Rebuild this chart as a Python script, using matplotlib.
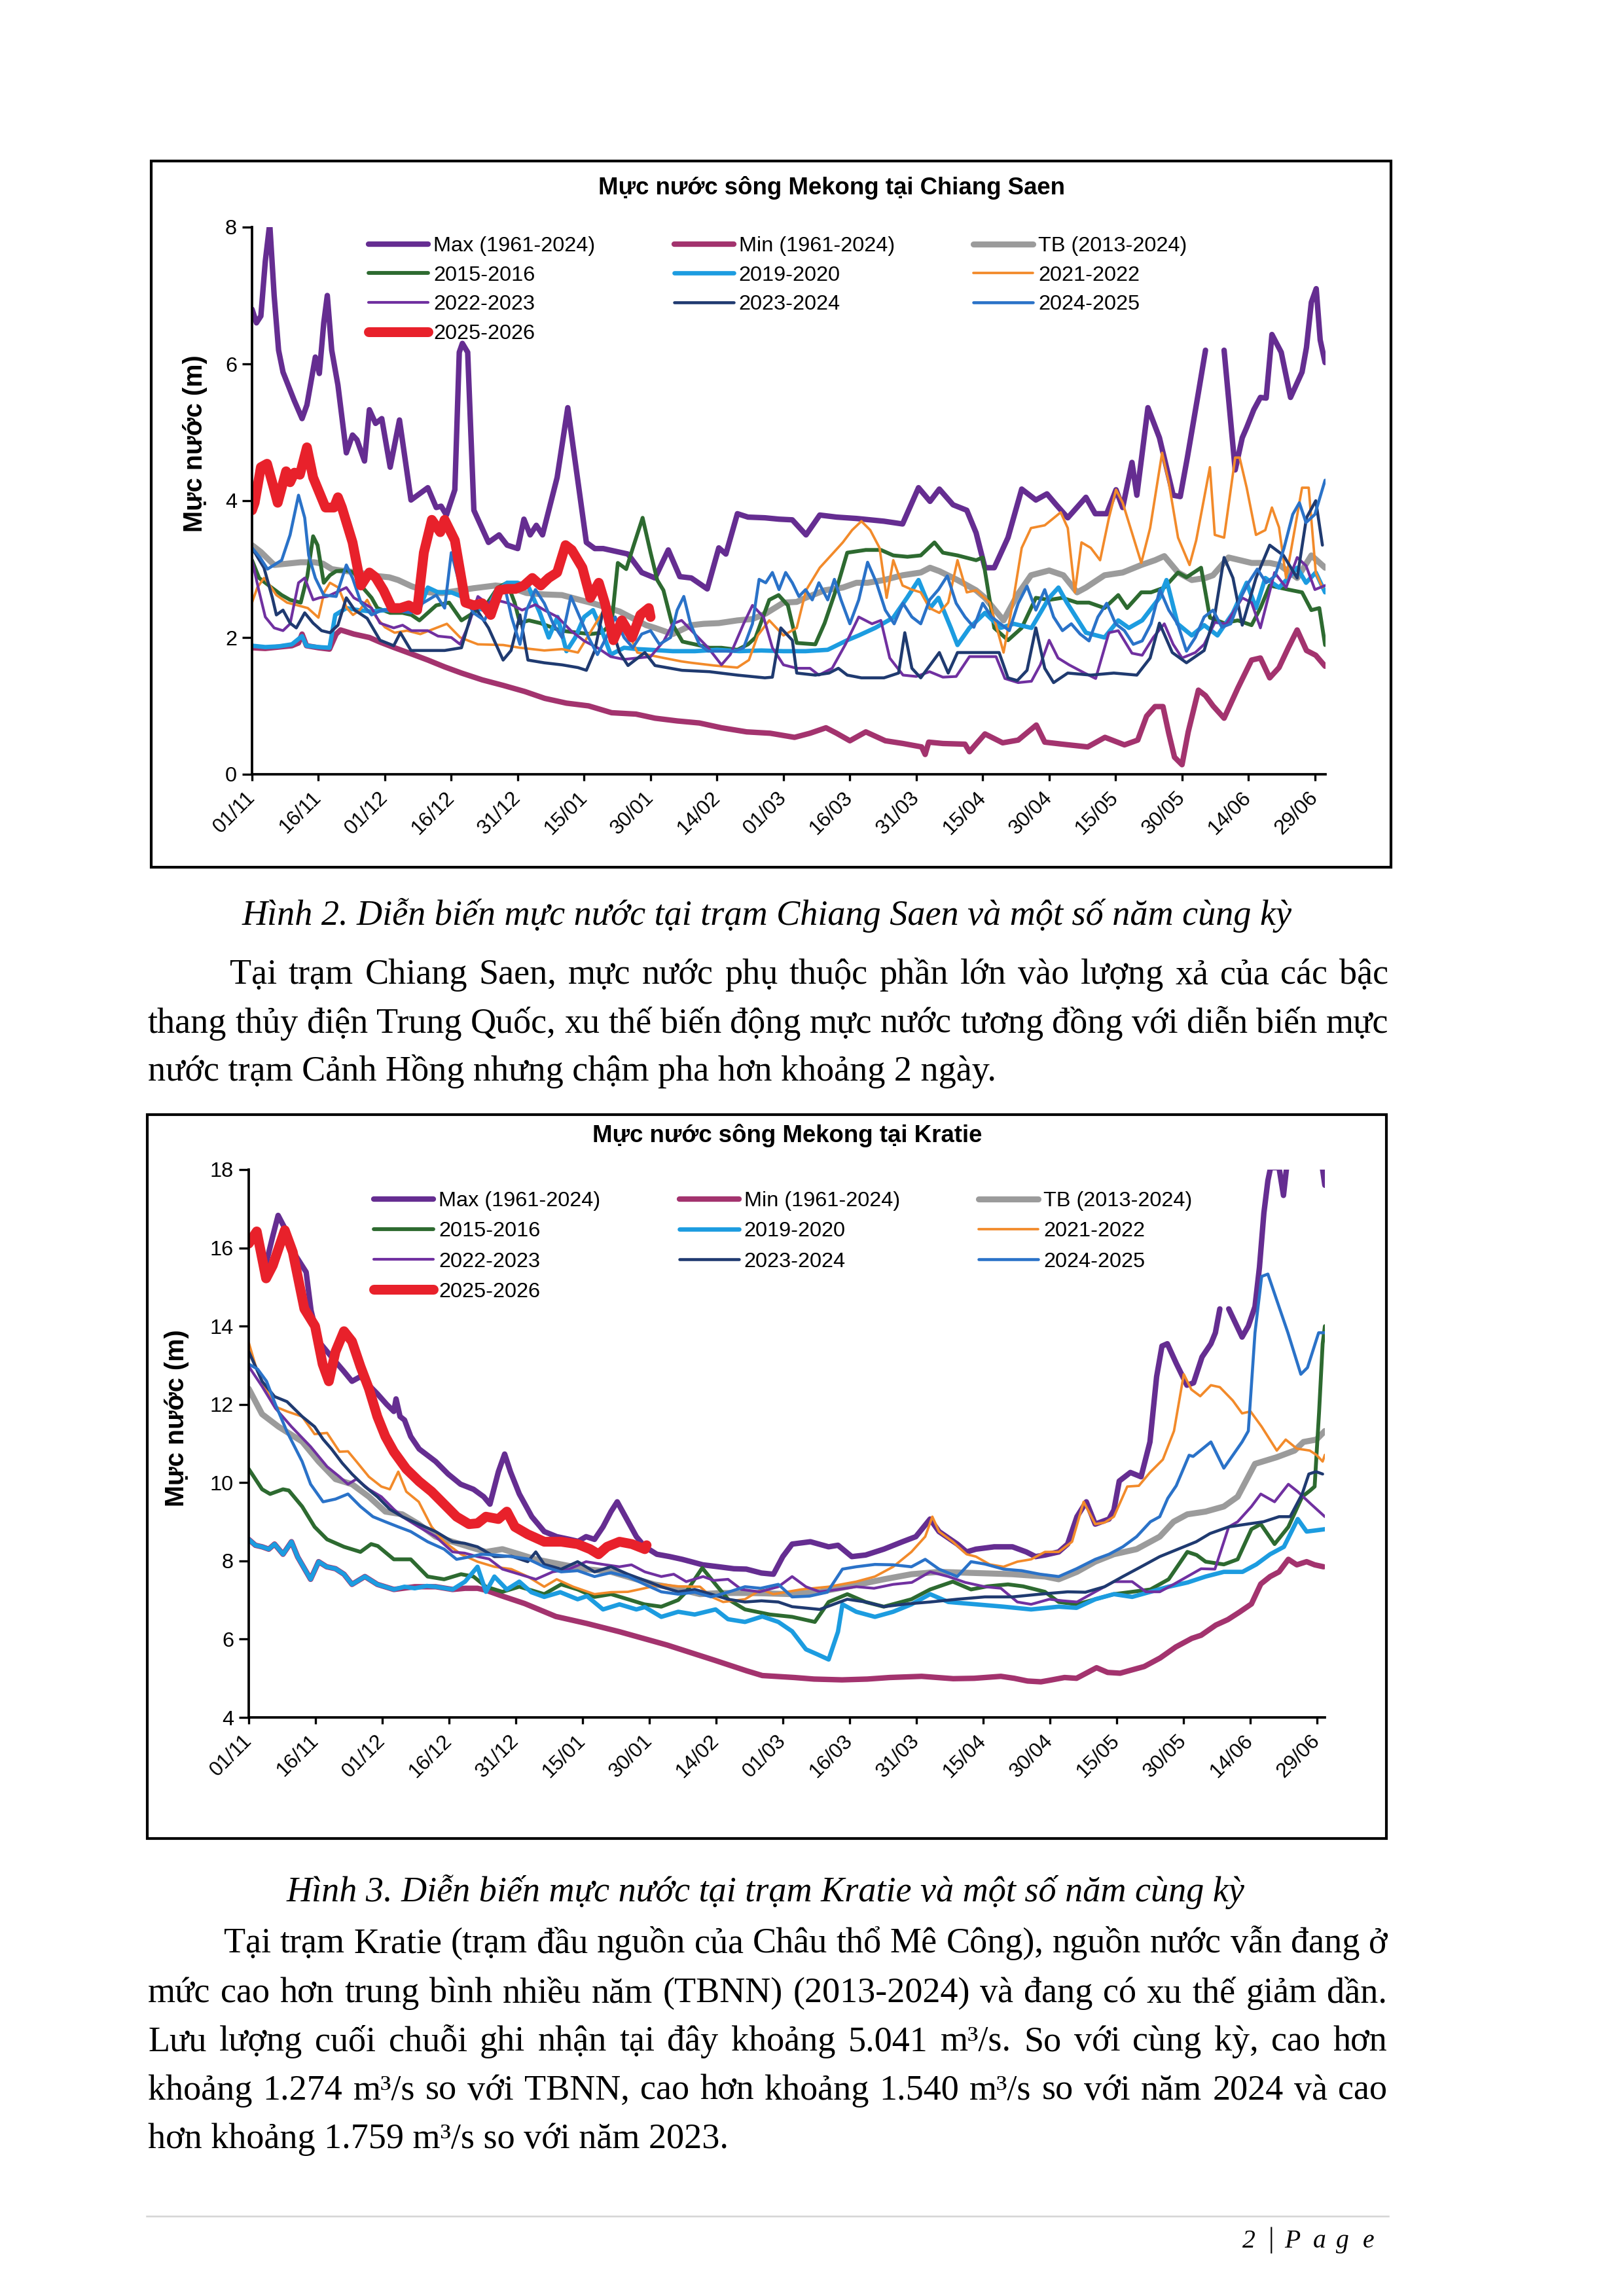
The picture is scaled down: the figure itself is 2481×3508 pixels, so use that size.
import numpy as np
import matplotlib
matplotlib.use('Agg')
import matplotlib.pyplot as plt
from matplotlib.patches import Rectangle
from matplotlib.lines import Line2D
from matplotlib.font_manager import FontProperties

nan = np.nan

# ---------------- data: (day since 01/11, water level m) ----------------
xtick_labels = ['01/11', '16/11', '01/12', '16/12', '31/12', '15/01', '30/01', '14/02', '01/03',
                '16/03', '31/03', '15/04', '30/04', '15/05', '30/05', '14/06', '29/06']
xtick_days = [0, 15, 30, 45, 60, 75, 90, 105, 120, 135, 150, 165, 180, 195, 210, 225, 240]

series_labels = ['Max (1961-2024)', 'Min (1961-2024)', 'TB (2013-2024)', '2015-2016', '2019-2020',
                 '2021-2022', '2022-2023', '2023-2024', '2024-2025', '2025-2026']
series_colors = ['#652D91', '#A3336E', '#9B9B9B', '#2D6A30', '#1C9CE0',
                 '#F28A2A', '#7030A0', '#1F3A70', '#2A72C8', '#E8212B']
series_widths = [2.0, 2.0, 2.2, 1.4, 1.6, 0.9, 1.0, 1.1, 1.1, 3.6]

# Chiang Saen
cs_max = [(0,6.8),(1,6.6),(2,6.7),(3,7.5),(4,8.05),(5,7.0),(6,6.2),(7,5.88),(9.5,5.47),(11.3,5.2),(12.4,5.4),
          (14.3,6.1),(15.2,5.86),(16.2,6.6),(17,7.0),(18,6.2),(19.4,5.69),(21.3,4.7),(22.7,4.96),(23.7,4.89),
          (25.4,4.58),(26.5,5.33),(27.9,5.13),(29.3,5.2),(31.2,4.49),(33.3,5.18),(35.9,4.01),(39.7,4.19),
          (41.6,3.9),(42.7,3.92),(43.9,3.79),(45.8,4.16),(46.8,6.17),(47.5,6.3),(48.7,6.17),(50.1,3.86),
          (53.4,3.39),(55.8,3.5),(57.6,3.35),(60,3.3),(61.4,3.73),(62.8,3.5),(64.2,3.64),(65.6,3.5),(68.9,4.34),
          (71.3,5.36),(72.7,4.7),(75.5,3.39),(77.4,3.3),(79.3,3.3),(84.9,3.22),(88,2.95),(91,2.87),(94,3.28),
          (96.6,2.89),(99.2,2.87),(102.8,2.71),(105.4,3.31),(107,3.22),(109.6,3.81),(112,3.76),(115.8,3.75),
          (119,3.73),(122,3.72),(125.1,3.5),(128.2,3.79),(132,3.76),(136.5,3.74),(142.7,3.7),(146.9,3.66),
          (150.5,4.19),(153.1,3.99),(155.2,4.17),(158.3,3.94),(161.4,3.86),(163.5,3.53),(165.5,3.02),
          (167.6,3.02),(170.7,3.46),(173.8,4.17),(177,4.01),(179.5,4.1),(181.6,3.94),(184.2,3.75),(188.3,4.05),
          (190.4,3.81),(193,3.81),(195.1,4.16),(196.6,3.9),(198.7,4.56),(199.8,4.08),(202.3,5.36),(204.9,4.92),
          (208,4.08),(209.6,4.06),(211.2,4.63),(213.7,5.58),(215.3,6.2),(217,nan),(219.5,6.2),(222,4.45),
          (223.6,4.92),(224.6,5.07),(226.2,5.33),(227.7,5.51),(229,5.5),(230.3,6.43),(232.4,6.17),(234.5,5.51),
          (237.1,5.88),(238.1,6.24),(239.2,6.9),(240.3,7.1),(241.2,6.35),(242.3,6.02)]
cs_min = [(0,1.85),(3,1.84),(6,1.86),(9,1.88),(10.5,1.92),(11.3,2.05),(12.3,1.88),(15,1.85),(17.5,1.83),(19,2.05),
          (20,2.11),(23,2.05),(26.5,2.0),(29,1.93),(32.2,1.85),(36,1.76),(39.7,1.67),(43.5,1.57),(47.3,1.48),
          (52,1.38),(56.7,1.3),(61.6,1.21),(66.1,1.11),(71,1.04),(76,1.0),(81.2,0.9),(86.7,0.88),(91,0.82),
          (96,0.78),(101,0.75),(106,0.68),(111.7,0.62),(117,0.6),(122.5,0.54),(126,0.6),(129.6,0.68),(132,0.6),
          (135,0.49),(138.6,0.62),(143,0.49),(147,0.45),(151.2,0.4),(152,0.29),(152.8,0.47),(156,0.45),(161,0.44),
          (162,0.33),(165.5,0.59),(169.5,0.46),(173,0.5),(177.1,0.72),(179,0.47),(183,0.44),(188.7,0.4),
          (192.6,0.54),(197,0.43),(200,0.5),(202,0.85),(203.9,0.99),(205.7,0.99),(207,0.6),(208.3,0.25),
          (210,0.14),(211.4,0.62),(213.7,1.23),(215.3,1.15),(217,1.0),(219.5,0.82),(222.6,1.26),(225.7,1.67),
          (227.7,1.7),(229.8,1.41),(231.9,1.56),(234,1.85),(236,2.11),(238.1,1.81),(240.2,1.74),(242.3,1.58)]
cs_tb = [(0,3.35),(2,3.25),(5,3.06),(8,3.08),(11,3.1),(14,3.1),(16,3.08),(18,3.0),(20,2.98),(24,2.95),(28,2.9),
         (31,2.88),(33,2.84),(36,2.75),(40,2.66),(43,2.65),(46,2.68),(50,2.72),(55,2.76),(58,2.74),(62,2.65),
         (66,2.63),(70,2.62),(74,2.55),(77,2.5),(80,2.44),(83,2.38),(86,2.28),(89,2.18),(91,2.14),(95,2.05),
         (99.2,2.18),(102,2.2),(105.4,2.21),(109.6,2.25),(113,2.27),(116,2.35),(120,2.51),(123,2.52),(125,2.58),
         (129.3,2.69),(133.4,2.73),(136.5,2.8),(139,2.8),(142.7,2.84),(146.9,2.91),(151,2.95),(153.1,3.02),
         (155.2,2.97),(159.3,2.84),(163.5,2.69),(165.5,2.58),(169.7,2.25),(172.8,2.62),(175.9,2.91),(180,2.98),
         (183.2,2.91),(186.3,2.66),(188.3,2.73),(192.5,2.91),(196.6,2.95),(200.8,3.06),(203.9,3.13),(206,3.19),
         (209.1,2.95),(212.2,2.84),(215.3,2.87),(217,2.91),(220.5,3.17),(225.7,3.09),(229.8,3.09),(232,3.06),
         (236,2.87),(239.2,3.2),(242.3,3.02)]
cs_1516 = [(0,3.13),(1.6,2.87),(4,2.75),(6.7,2.62),(8.6,2.55),(11,2.51),(12.5,2.9),(13.8,3.48),(14.8,3.35),
           (16.2,2.8),(17.6,2.91),(19,2.97),(21.3,2.98),(23,2.95),(25,2.73),(27,2.58),(28.3,2.43),(31.2,2.36),
           (34,2.36),(36,2.33),(37.8,2.25),(39.7,2.36),(41.6,2.47),(44.5,2.51),(47.3,2.25),(50,2.36),(53.2,2.51),
           (55.5,2.73),(57.6,2.8),(59.3,2.51),(60.5,2.21),(62.5,2.25),(65.1,2.21),(68,2.14),(69.8,2.1),(73.6,2.07),
           (76.4,2.05),(79,2.07),(81.2,2.21),(82.6,3.09),(84.5,3.0),(86,3.31),(88.2,3.75),(90,3.24),(91.5,2.84),
           (92.9,2.69),(94.8,2.21),(97.2,1.94),(100,1.9),(103.3,1.85),(106,1.85),(109.6,1.82),(112,1.9),(113.7,2.0),
           (116.8,2.55),(118.9,2.62),(121,2.47),(123,1.92),(127.2,1.9),(129.3,2.21),(132.4,2.8),(134.4,3.24),
           (138.6,3.28),(142,3.28),(144.8,3.2),(148,3.18),(151,3.2),(154.1,3.39),(156,3.24),(159.3,3.2),
           (163.5,3.13),(165,3.17),(167.6,2.14),(170.7,1.96),(173.8,2.14),(177,2.58),(180,2.55),(183,2.58),
           (186.3,2.51),(189,2.51),(192.5,2.43),(195.6,2.62),(197.6,2.43),(200.8,2.66),(203,2.66),(206,2.73),
           (209.1,2.95),(211,2.88),(214.3,3.02),(216.3,2.29),(219.5,2.21),(222.6,2.25),(225.7,2.18),(227.7,2.43),
           (229.8,2.76),(234,2.7),(237.1,2.66),(239.2,2.4),(241,2.43),(242.3,1.89)]
cs_1920 = [(0,1.88),(3,1.86),(6,1.87),(9,1.9),(11.3,2.02),(12.3,1.88),(15,1.86),(17.5,1.85),(18.8,2.33),(21.3,2.43),
           (24,2.4),(27,2.38),(30,2.4),(33,2.4),(36,2.38),(38,2.45),(39.7,2.73),(42,2.66),(45,2.66),(47.3,2.6),
           (50,2.43),(53,2.4),(55,2.66),(57.6,2.8),(60,2.8),(62.5,2.73),(65,2.36),(67,2.0),(69,2.3),(71,1.8),
           (73,2.0),(75,2.3),(77,2.4),(79,2.1),(81,1.75),(84,1.85),(87,1.83),(90,1.82),(95,1.8),(100,1.8),
           (105,1.82),(110,1.8),(115,1.81),(120,1.8),(125,1.8),(130,1.82),(134.4,1.96),(137,2.03),(140.7,2.14),
           (144.8,2.29),(147.9,2.58),(150.5,2.84),(153.1,2.43),(155,2.58),(157.8,2.14),(159.3,1.89),(162,2.14),
           (165.5,2.36),(169,2.14),(172,2.2),(176,2.14),(180,2.58),(182.1,2.73),(184,2.51),(188.3,2.07),
           (192.5,2.0),(195.6,2.25),(198,2.14),(201,2.25),(204.9,2.58),(206.5,2.84),(209,2.2),(212.2,2.03),
           (215,2.18),(218,2.03),(221.5,2.36),(224.6,2.8),(226.7,2.43),(228.8,2.87),(231.9,2.73),(234,2.87),
           (236,3.02),(238,2.8),(240.2,2.95),(242.3,2.66)]
cs_2122 = [(0,2.51),(1.2,2.73),(2.7,2.87),(3.6,2.8),(5.5,2.62),(7.9,2.51),(10.3,2.47),(12.6,2.43),(15,2.29),
           (16.3,2.66),(17.6,2.8),(19.5,2.73),(21.4,2.43),(22.8,2.33),(24.3,2.4),(26,2.55),(28,2.3),(30,2.15),
           (32.2,2.07),(35,2.1),(38,2.05),(41.6,2.14),(44,2.2),(47,2.0),(51,1.9),(56.7,1.89),(60.5,1.85),(66,1.81),
           (70,1.83),(73.6,1.78),(77,2.14),(79.7,2.43),(82,2.14),(85,2.07),(87,1.78),(93,1.7),(97,1.65),(99.2,1.63),
           (104.4,1.59),(109.6,1.56),(112.2,1.67),(114.2,2.03),(116.8,2.25),(120,2.03),(123,2.14),(125.1,2.69),
           (128.2,3.02),(131.3,3.24),(133.4,3.39),(135.5,3.57),(137.6,3.7),(139.6,3.57),(141.7,3.31),(143.3,2.58),
           (144.8,3.13),(146.9,2.76),(149,2.7),(151,2.66),(153,2.43),(155.2,2.36),(157.2,2.51),(159.3,3.13),
           (161.4,2.66),(163.5,2.69),(166.6,2.51),(169.7,1.78),(171.8,2.51),(173.8,3.31),(175.9,3.6),(179,3.64),
           (181.1,3.75),(182.6,3.83),(184.2,3.6),(185.8,2.66),(187.3,3.39),(189.4,3.31),(191.5,3.13),(193.5,3.75),
           (195.1,4.16),(196.6,3.97),(198.7,3.53),(200.8,3.09),(202.8,3.6),(205.5,4.7),(207,4.27),(209.1,3.46),
           (211.7,3.06),(213.2,3.42),(216.3,4.49),(217.4,3.5),(219.5,3.46),(222,4.63),(223,4.63),(224.6,4.19),
           (226.7,3.5),(228.8,3.57),(230.3,3.9),(231.9,3.61),(233.5,2.87),(235.5,3.6),(237.1,4.19),(238.6,4.19),
           (240.2,2.95),(241.7,2.73)]
cs_2223 = [(0,3.13),(1.5,2.7),(3,2.3),(5,2.14),(7,2.1),(8.6,2.2),(10.5,2.8),(11.9,2.87),(13.8,2.55),(15.2,2.58),
           (17,2.6),(19,2.66),(21.3,2.73),(23,2.58),(25,2.51),(27,2.43),(28.9,2.21),(32,2.14),(34,2.18),(36,2.1),
           (39.7,2.1),(42,2.02),(45,2.0),(47,1.9),(49,2.2),(51,2.6),(53,2.5),(55,2.55),(58,2.5),(61,2.4),(64,2.48),
           (66,2.4),(69,2.3),(72,2.1),(75,1.95),(78,1.85),(81,1.72),(84,1.68),(87,1.7),(90,1.72),(93,1.95),(95,2.2),
           (97,2.25),(100,2.05),(103,1.85),(106,1.6),(108,1.75),(111,2.2),(113,2.47),(115.5,2.3),(117.5,1.85),
           (120,1.6),(123,1.55),(126,1.55),(128,1.45),(131,1.55),(134,1.9),(137,2.3),(140,2.2),(142,2.25),(144,1.7),
           (147,1.45),(150,1.43),(153,1.5),(156,1.42),(159,1.43),(162,1.72),(165,1.72),(168,1.72),(170,1.4),
           (173,1.34),(176,1.36),(178,1.6),(180,1.96),(182,1.7),(184.5,1.6),(188,1.48),(190.5,1.4),(193.5,2.07),
           (195.6,2.1),(198.7,1.77),(201,1.74),(203.5,2.0),(206,2.2),(208,1.9),(210,1.7),(213,1.78),(215,1.9),
           (217.4,2.22),(220,2.2),(223.6,2.58),(225.7,2.51),(227.7,2.14),(230.9,2.95),(233.5,2.73),(236,3.17),
           (238,3.05),(240,2.7),(242.3,2.76)]
cs_2324 = [(0,3.31),(2.7,3.02),(4.6,2.58),(5.5,2.33),(7,2.4),(8.6,2.21),(10,2.14),(11.9,2.36),(13.8,2.21),
           (15.7,2.1),(17.6,2.07),(19.4,2.18),(21.3,2.58),(23.2,2.4),(26,2.28),(28.9,1.96),(32,1.88),(33.5,2.07),
           (35.9,1.81),(39.7,1.81),(43.5,1.81),(47.3,1.85),(49.6,2.36),(50.5,2.43),(53.4,2.14),(56.7,1.67),
           (58.5,1.81),(60.5,2.33),(62.3,1.67),(66,1.63),(70,1.6),(73.6,1.56),(75.5,1.52),(77.4,1.81),(79.3,2.4),
           (81,2.2),(83,1.78),(84.9,1.59),(88.7,1.78),(91,1.59),(97.1,1.52),(103.3,1.5),(109.6,1.45),(115.8,1.41),
           (117.5,1.42),(119.4,2.14),(122,1.96),(123,1.48),(127.2,1.45),(130.3,1.48),(132.4,1.55),(134.4,1.45),
           (137.6,1.41),(142.7,1.41),(146,1.48),(147.4,2.07),(149,1.55),(151,1.41),(155.2,1.78),(157.2,1.48),
           (159.3,1.78),(163.5,1.78),(168.7,1.78),(170.7,1.41),(172.8,1.37),(175,1.52),(177,2.14),(179,1.55),
           (181,1.34),(184.2,1.48),(189.4,1.45),(194.6,1.48),(199.8,1.45),(202.8,1.7),(204.9,2.21),(207.8,1.78),
           (211,1.63),(215,1.81),(217.4,2.33),(219.5,3.17),(221.5,2.87),(223.6,2.18),(226.7,2.87),(229.8,3.35),
           (232.9,3.2),(236,2.87),(238.1,3.75),(240.2,4.0),(241.7,3.35)]
cs_2425 = [(0,3.31),(1.8,3.17),(3.5,3.0),(6.7,3.13),(8.6,3.5),(10.5,4.08),(11.9,3.75),(12.8,3.2),(14.3,2.87),
           (16.2,2.62),(19,2.6),(21.3,3.06),(22.7,2.87),(24.6,2.51),(27,2.33),(29.3,2.4),(32.2,2.4),(35.9,2.36),
           (38.5,2.5),(41.6,2.62),(43.5,2.43),(45,3.24),(46.5,2.87),(48,2.6),(50,2.36),(52.5,2.25),(55,2.6),
           (57,2.76),(58.6,2.3),(60.5,1.9),(62,2.4),(64,2.7),(66,2.5),(68,2.2),(70,2.0),(72,2.6),(74,2.3),(76,2.0),
           (78,1.75),(80,2.0),(82,2.3),(84,2.0),(86,1.85),(88,2.05),(90,2.1),(92,1.9),(94.5,2.0),(96,2.4),(97.5,2.6),
           (99,2.2),(101,1.9),(103,1.8),(106,1.8),(109,1.8),(111,1.85),(113,2.2),(114.5,2.85),(116,2.8),(117.5,2.95),
           (119,2.7),(120.5,2.95),(122,2.8),(123.5,2.6),(125,2.7),(126.5,2.55),(128,2.8),(130,2.55),(131.5,2.85),
           (133,2.55),(135,2.2),(137,2.55),(139,3.1),(141,2.8),(143,2.4),(145,2.2),(147,2.5),(149,2.3),(151,2.2),
           (153,2.55),(155,2.7),(157,2.9),(159,2.5),(161,2.3),(163,2.15),(165,2.5),(167,2.3),(169,2.2),(171,2.1),
           (173,2.5),(175,2.75),(177,2.4),(179,2.7),(181,2.3),(183,2.1),(185,2.2),(187,2.05),(189,1.95),(191,2.3),
           (193,2.5),(195,2.2),(197,2.1),(199,1.9),(201,1.95),(203,2.2),(205,2.7),(207,2.4),(209,2.2),(211,1.8),
           (213,2.0),(215,2.3),(217,2.4),(219,2.15),(221,2.2),(223,2.55),(225,2.8),(227,3.0),(229,2.8),(231,2.9),
           (233,3.3),(235,3.8),(236.5,3.97),(238,3.68),(240,3.8),(242.3,4.3)]
cs_2526 = [(0,3.86),(0.6,3.97),(2,4.49),(3.4,4.54),(4.9,4.19),(5.8,3.97),(7.7,4.43),(8.6,4.27),(9.6,4.41),
           (10.8,4.38),(12.4,4.78),(13.8,4.34),(15.2,4.12),(16.6,3.9),(18.5,3.9),(19.4,4.05),(20.3,3.9),(22.7,3.39),
           (24.6,2.76),(26.5,2.95),(27.9,2.88),(29.7,2.69),(31.6,2.43),(33.5,2.43),(35.4,2.47),(37.3,2.4),
           (38.8,3.24),(40.6,3.72),(42.5,3.54),(43.5,3.72),(45.8,3.42),(48.2,2.51),(50.1,2.47),(52,2.5),(53.9,2.33),
           (55.8,2.69),(57.6,2.71),(59.5,2.71),(61.4,2.76),(63.3,2.87),(65.2,2.76),(67,2.87),(68.9,2.95),
           (70.8,3.35),(72.2,3.28),(74.6,3.02),(76.4,2.58),(78.3,2.8),(79.7,2.5),(81.6,1.96),(83.5,2.25),(85.8,2.0),
           (87.7,2.33),(89.6,2.43),(90,2.3)]

# Kratie
kr_max = [(0,16.2),(1.8,16.45),(3.9,15.6),(5.4,16.3),(6.6,16.83),(8.4,16.44),(10,15.9),(12.9,15.38),(14,14.4),
          (15.7,13.61),(19,13.16),(21.4,12.84),(23.2,12.59),(25.1,12.71),(28.9,12.27),(31,12.0),(32.6,11.82),
          (33.1,12.14),(34,11.69),(35,11.6),(36.4,11.18),(38.3,10.86),(42,10.54),(44.8,10.22),(47.6,9.96),
          (50.5,9.83),(52.8,9.64),(54.2,9.45),(56.1,10.28),(57.5,10.73),(58.8,10.28),(60.8,9.71),(63.6,9.13),
          (66.4,8.75),(69.2,8.62),(72.1,8.55),(74,8.5),(75.8,8.62),(77.7,8.55),(79.6,8.87),(81.4,9.26),(82.8,9.51),
          (84.3,9.2),(87.1,8.62),(89,8.36),(91.7,8.17),(94.6,8.11),(97.4,8.04),(99.4,7.98),(102,7.9),(105.6,7.85),
          (109,7.8),(111.8,7.79),(115.2,7.69),(117.9,7.66),(120,8.11),(122.1,8.43),(126.2,8.49),(130.3,8.36),
          (132.4,8.4),(135.5,8.11),(138.6,8.15),(142.7,8.30),(146.9,8.49),(149.9,8.62),(153.1,9.07),(155.1,8.75),
          (159.2,8.43),(161.3,8.23),(163.4,8.3),(167.5,8.36),(171.6,8.36),(174.7,8.23),(176.8,8.11),(178.9,8.15),
          (182,8.23),(184,8.43),(186.1,9.13),(188.2,9.51),(190.2,8.94),(193.3,9.07),(194.4,9.3),(195.6,10.04),
          (198.1,10.26),(200.5,10.15),(202.5,11.04),(204,12.71),(205.2,13.49),(206.4,13.55),(208.4,13.05),
          (210.8,12.49),(212.3,12.55),(214.2,13.21),(216.2,13.55),(217.2,13.83),(218.2,14.44),(219.2,nan),
          (220.2,14.44),(223.2,13.72),(224.6,14.0),(226.1,14.5),(227.1,15.5),(228.1,16.89),(229,17.72),(229.6,18.05),
          (231.5,18.05),(232.5,17.34),(233.2,18.05),(235,19.0),(239,19.0),(241.3,18.0),(241.8,17.6)]
kr_min = [(0,8.55),(1.5,8.4),(3,8.36),(4.5,8.3),(5.8,8.43),(7.7,8.17),(9.6,8.49),(11,8.1),(13.9,7.53),(15.7,7.98),
          (17.5,7.85),(19.5,7.8),(21.4,7.66),(23.2,7.4),(26.1,7.6),(28.9,7.4),(32.6,7.27),(37.3,7.34),(42,7.34),
          (45.8,7.27),(48.6,7.3),(51.4,7.3),(53.3,7.25),(57,7.1),(62,6.91),(69,6.58),(76,6.4),(83.3,6.19),(94,5.85),
          (104.7,5.46),(111.9,5.19),(115.4,5.07),(122.6,5.02),(127,4.98),(133.3,4.96),(139,4.98),(144,5.02),
          (151.2,5.05),(158.3,4.99),(163,5.0),(169,5.05),(172,5.0),(175,4.93),(178,4.91),(180,4.95),(183.3,5.02),
          (186,5.0),(190.5,5.27),(193,5.15),(195.8,5.13),(198,5.2),(201.2,5.3),(204.8,5.52),(208.3,5.8),
          (211.9,6.02),(214,6.1),(217.3,6.36),(220,6.5),(222.6,6.69),(225.3,6.9),(227.4,7.41),(229.5,7.6),
          (231.5,7.72),(233.6,8.04),(235.5,7.9),(237.7,7.98),(239.5,7.9),(241.5,7.85)]
kr_tb = [(0,12.4),(3,11.75),(6.7,11.43),(12,11.05),(15.7,10.54),(19.5,10.09),(23.2,9.96),(27,9.64),(30.7,9.26),
         (34.5,9.19),(38.2,8.94),(42,8.62),(45.8,8.49),(49.5,8.36),(53.3,8.23),(57,8.3),(60.8,8.17),(64.5,8.04),
         (70.2,7.91),(75.8,7.79),(81.4,7.72),(87.1,7.53),(91.1,7.4),(96,7.3),(101.4,7.15),(106,7.18),(111.8,7.18),
         (116,7.17),(122.1,7.15),(128.3,7.21),(134.5,7.34),(142.7,7.53),(148.9,7.66),(155.1,7.72),(163.4,7.69),
         (171.6,7.66),(178.9,7.6),(182,7.53),(186.1,7.72),(190.2,7.98),(194.4,8.17),(199.5,8.30),(204.7,8.62),
         (207.8,9.0),(210.9,9.19),(215,9.26),(219.1,9.39),(222.2,9.64),(226.1,10.48),(231,10.65),(235,10.82),
         (237,11.04),(239.9,11.1),(241.8,11.32)]
kr_1516 = [(0,10.35),(3,9.83),(4.8,9.71),(7.7,9.83),(9,9.8),(12,9.39),(14.8,8.87),(17.6,8.55),(21.4,8.36),
           (25.1,8.23),(27.5,8.43),(29,8.38),(32.6,8.04),(36.4,8.04),(40.2,7.6),(43.9,7.53),(47.7,7.66),(50.5,7.6),
           (53.3,7.34),(57,7.21),(60.8,7.34),(63.5,7.25),(66.4,7.15),(70.2,7.4),(73.9,7.27),(77.7,7.08),(81.4,7.15),
           (85.2,7.02),(88.9,6.89),(92.7,6.83),(96.5,7.0),(98.3,7.21),(101.9,7.82),(104.9,7.4),(107.7,7.02),
           (111.5,6.76),(117.1,6.63),(122.1,6.57),(127.2,6.44),(130.3,6.95),(134.5,7.15),(138.6,6.95),(142.7,6.83),
           (148.9,7.02),(153.1,7.27),(158.2,7.47),(162.3,7.27),(166,7.35),(170.6,7.4),(174,7.35),(178.9,7.21),
           (182,6.95),(186.1,6.89),(190.2,7.02),(194.4,7.15),(198.5,7.21),(202.6,7.27),(206.7,7.53),(210.9,8.23),
           (213,8.15),(215,7.98),(219.1,7.91),(222.2,8.04),(225.3,8.81),(227.4,8.94),(230.5,8.43),(233.6,8.87),
           (236.7,9.64),(238.5,9.8),(239.5,9.9),(240.5,11.8),(241.3,13.55),(241.8,14.0)]
kr_1920 = [(0,8.55),(1.5,8.4),(3,8.36),(4.5,8.3),(5.8,8.43),(7.7,8.17),(9.6,8.49),(11,8.1),(13.9,7.53),(15.7,7.98),
           (17.5,7.85),(19.5,7.8),(21.4,7.66),(23.2,7.4),(26.1,7.6),(28.9,7.4),(32.6,7.27),(35,7.34),(37.3,7.3),
           (40,7.36),(42,7.34),(45.8,7.27),(48.6,7.47),(51.4,7.85),(53.3,7.21),(55.2,7.6),(58,7.27),(60.8,7.47),
           (63.5,7.2),(66.4,7.08),(70,7.2),(73.9,7.02),(76,7.1),(79.6,6.76),(83.3,6.89),(87.1,6.76),(89,6.82),
           (92.7,6.57),(96.5,6.7),(100.2,6.63),(104.9,6.76),(107.7,6.51),(111.5,6.44),(115.4,6.58),(119,6.44),
           (122.1,6.2),(125.2,5.74),(127.8,5.61),(130.3,5.48),(132.4,6.19),(133.4,6.89),(136.5,6.7),(140.7,6.57),
           (144.8,6.7),(148.9,6.89),(153.1,7.15),(157.2,6.95),(163.4,6.89),(169.6,6.83),(175.8,6.76),(182,6.83),
           (186,6.8),(190.2,7.02),(194.4,7.15),(198.5,7.08),(202.6,7.21),(206.7,7.34),(211,7.45),(215,7.6),
           (219.1,7.72),(223.3,7.72),(226.4,7.91),(229.5,8.17),(232.6,8.36),(235.7,9.07),(237.7,8.75),(239.8,8.78),
           (241.8,8.81)]
kr_2122 = [(0,13.58),(1.5,13.0),(3,12.59),(5.8,11.95),(8.6,11.82),(12,11.69),(14.8,11.24),(17.6,11.27),(20.4,10.79),
           (22.3,10.8),(24.2,10.54),(27,10.15),(29.8,9.9),(31.7,9.83),(33.6,10.28),(35.4,9.77),(38.2,9.51),
           (41.1,8.87),(43.9,8.49),(47.7,8.17),(51.4,7.98),(55.2,7.85),(59,7.79),(62.7,7.6),(66.4,7.34),(69.2,7.53),
           (72.9,7.34),(77.7,7.15),(81.4,7.2),(85.2,7.21),(88.9,7.3),(92.7,7.4),(96.5,7.35),(101.4,7.34),(104,7.08),
           (106.6,6.95),(111.5,7.02),(115.2,7.27),(117.9,7.15),(124.1,7.27),(130.3,7.34),(136.5,7.47),(140.7,7.6),
           (144.8,7.85),(148.9,8.23),(152,8.62),(153.6,9.13),(155.1,8.75),(158.2,8.49),(161.3,8.17),(163.4,8.11),
           (166.5,7.91),(169.6,7.85),(172.7,7.98),(175.8,8.04),(178.9,8.23),(182,8.23),(185,8.49),(187.6,9.51),
           (190.2,8.94),(192.3,8.98),(194.4,9.13),(197.4,9.9),(200,9.92),(202.5,10.26),(205.4,10.59),(207.9,11.32),
           (210.1,12.77),(211.8,12.38),(213.8,12.21),(216.2,12.49),(218.2,12.44),(221.1,12.1),(223.2,11.77),
           (225.1,11.82),(227.6,11.43),(231,10.82),(233,11.1),(235.5,10.87),(238.4,10.82),(239.9,10.71),
           (241.3,10.54),(241.8,10.71)]
kr_2223 = [(0,12.97),(3,12.46),(6,11.9),(9.6,11.43),(13.9,10.92),(17.6,10.41),(20.4,10.15),(22.3,9.96),(24.2,10.09),
           (27,9.83),(29.8,9.64),(32.6,9.32),(34.5,9.13),(38.2,8.87),(42,8.62),(45.8,8.23),(48.5,8.2),(51.4,8.11),
           (54,8.05),(57,7.79),(60.8,7.66),(64.5,7.53),(68.3,7.72),(72,7.79),(75.8,7.98),(79.6,7.91),(83.3,7.85),
           (86,7.9),(89,7.72),(92.7,7.6),(95.5,7.66),(98.3,7.47),(102.1,7.6),(104.5,7.5),(107.7,7.53),(110.7,7.27),
           (114.8,7.21),(119,7.34),(122.1,7.6),(125.2,7.34),(128.3,7.21),(132.4,7.27),(136.5,7.34),(140.5,7.3),
           (144.8,7.4),(149,7.45),(153.1,7.72),(157.2,7.6),(161,7.45),(165.4,7.34),(169,7.3),(172.7,6.95),
           (175.8,6.89),(179.9,7.02),(183,6.98),(186.1,6.95),(190.2,7.21),(194.4,7.47),(198.5,7.47),(201.6,7.21),
           (204.7,7.21),(207.8,7.4),(210.9,7.6),(214,7.8),(217.1,7.79),(220.2,8.87),(222.2,9.0),(225.3,9.39),
           (227.4,9.71),(230.5,9.51),(233.6,9.96),(235.7,9.77),(238.7,9.45),(241.8,9.13)]
kr_2324 = [(0,13.35),(3,12.59),(5.8,12.2),(8.6,12.07),(12,11.69),(14.8,11.43),(16.7,11.11),(18.6,10.86),(21,10.5),
           (23.2,10.22),(26.1,9.9),(28.9,9.64),(31.7,9.32),(34.5,9.13),(38.2,8.94),(42,8.75),(45.8,8.49),(48.5,8.45),
           (51.4,8.36),(55.2,8.11),(59,8.12),(62.7,7.98),(64.5,8.23),(66.4,7.91),(70.2,7.79),(73.9,7.98),(77.7,7.72),
           (81.4,7.85),(85.2,7.66),(89,7.5),(92.7,7.34),(96.5,7.21),(100.2,7.27),(103.9,7.15),(107.7,7.02),
           (111.5,6.95),(115.2,6.98),(119,6.95),(122.1,6.83),(128.3,6.76),(134.5,7.02),(138.6,6.95),(142.7,6.83),
           (147.8,6.9),(153.1,6.95),(159.2,7.02),(165.4,7.08),(171.6,7.08),(177.8,7.15),(184,7.21),(188,7.2),
           (192.3,7.34),(196.4,7.6),(200.5,7.85),(204.7,8.11),(208.8,8.30),(212.9,8.49),(216,8.7),(220.2,8.87),
           (224.3,8.94),(228,9.0),(231.5,9.13),(234,9.13),(236.7,9.71),(238.2,10.22),(239.8,10.28),(241.3,10.22)]
kr_2425 = [(0,13.03),(2,12.9),(4,12.59),(6,12.0),(8.6,11.3),(12,10.54),(13.9,9.96),(16.7,9.51),(19.5,9.58),
           (22.3,9.71),(25.1,9.39),(27.9,9.13),(30.7,9.0),(33.6,8.87),(36.4,8.75),(40.2,8.49),(43.9,8.30),(46.7,8.04),
           (49.5,8.1),(52.3,8.17),(55.5,8.15),(59,8.11),(62.7,8.05),(66.4,7.85),(70.2,7.72),(73.9,7.75),(77.7,7.6),
           (81.4,7.7),(85.2,7.6),(89,7.4),(92.7,7.21),(96.5,7.15),(100.2,7.2),(103.9,7.08),(107.7,7.2),(111.5,7.34),
           (115,7.3),(119,7.4),(122.1,7.08),(126,7.1),(130,7.2),(133.4,7.79),(136.5,7.85),(140.7,7.91),(144.8,7.9),
           (148.9,7.85),(152,8.04),(155.1,7.79),(159.2,7.6),(162.3,7.98),(165.4,7.92),(169.6,7.79),(173.7,7.75),
           (177.8,7.66),(182,7.6),(186,7.8),(190.2,8.04),(193.3,8.17),(196.4,8.36),(199.5,8.62),(202.6,9.0),
           (204.7,9.13),(206.5,9.6),(208.4,9.92),(211.3,10.7),(212.2,10.67),(216.2,11.04),(219.1,10.37),
           (223.2,11.04),(224.6,11.32),(226.1,13.83),(227.6,15.27),(229,15.33),(231,14.66),(233.5,13.83),
           (236.4,12.77),(237.9,12.94),(240.4,13.83),(241.8,13.83)]
kr_2526 = [(0,16.11),(1.8,16.42),(3.9,15.22),(5.4,15.55),(8.1,16.45),(9.9,15.89),(12.5,14.44),(14.9,14.0),
           (16.6,13.03),(18,12.59),(19.5,13.35),(21.4,13.87),(23.2,13.61),(25.1,12.97),(27,12.4),(28.9,11.69),
           (30.7,11.18),(32.6,10.79),(35.4,10.35),(38.3,10.03),(41.1,9.77),(43.9,9.45),(46.7,9.13),(49.5,8.94),
           (51.4,8.96),(53.3,9.13),(56.1,9.07),(58,9.26),(59.8,8.87),(62.7,8.68),(66.4,8.49),(70.2,8.49),(73.9,8.43),
           (76.7,8.30),(78.6,8.17),(80.5,8.36),(83.3,8.49),(86.1,8.43),(89,8.30),(89.4,8.4)]

chiang_saen = [cs_max, cs_min, cs_tb, cs_1516, cs_1920, cs_2122, cs_2223, cs_2324, cs_2425, cs_2526]
kratie = [kr_max, kr_min, kr_tb, kr_1516, kr_1920, kr_2122, kr_2223, kr_2324, kr_2425, kr_2526]

# ---------------- page text ----------------
para1 = ["Tại trạm Chiang Saen, mực nước phụ thuộc phần lớn vào lượng xả của các bậc",
         "thang thủy điện Trung Quốc, xu thế biến động mực nước tương đồng với diễn biến mực",
         "nước trạm Cảnh Hồng nhưng chậm pha hơn khoảng 2 ngày."]
para2 = ["Tại trạm Kratie (trạm đầu nguồn của Châu thổ Mê Công), nguồn nước vẫn đang ở",
         "mức cao hơn trung bình nhiều năm (TBNN) (2013-2024) và đang có xu thế giảm dần.",
         "Lưu lượng cuối chuỗi ghi nhận tại đây khoảng 5.041 m³/s. So với cùng kỳ, cao hơn",
         "khoảng 1.274 m³/s so với TBNN, cao hơn khoảng 1.540 m³/s so với năm 2024 và cao",
         "hơn khoảng 1.759 m³/s so với năm 2023."]
caption1 = "Hình 2. Diễn biến mực nước tại trạm Chiang Saen và một số năm cùng kỳ"
caption2 = "Hình 3. Diễn biến mực nước tại trạm Kratie và một số năm cùng kỳ"

plt.rcParams['font.family'] = ['Liberation Sans', 'DejaVu Sans']

W, H = 2481, 3508
fig = plt.figure(figsize=(W / 300, H / 300), dpi=300)
fig.patch.set_facecolor('white')


def fx(x):
    return x / W


def fy(y):
    return 1 - y / H


serif = ['Liberation Serif', 'DejaVu Serif']
body_fp = FontProperties(family=serif, size=13)
cap_fp = FontProperties(family=serif, size=13, style='italic')


def draw_chart(box, axpx, data, ylim, yticks, xmax, title, title_xy, ylab_xy, leg_xy, leg_space):
    x0, y0, x1, y1 = box
    fig.add_artist(Rectangle((fx(x0), fy(y1)), (x1 - x0) / W, (y1 - y0) / H,
                             transform=fig.transFigure, fill=False, ec='black', lw=1.0))
    l, t, r, b = axpx
    ax = fig.add_axes([fx(l), fy(b), (r - l) / W, (b - t) / H])
    lines = []
    for lab, col, lw, pts in zip(series_labels, series_colors, series_widths, data):
        d, v = zip(*pts)
        ln, = ax.plot(d, v, color=col, lw=lw, label=lab,
                      solid_joinstyle='round', solid_capstyle='round')
        lines.append(ln)
    ax.set_xlim(0, xmax)
    ax.set_ylim(*ylim)
    ax.set_yticks(yticks)
    ax.set_xticks(xtick_days)
    ax.set_xticklabels(xtick_labels, rotation=45, ha='right', va='center', rotation_mode='anchor')
    ax.tick_params(axis='x', length=2.5, width=0.8, pad=5, labelsize=7.6)
    ax.tick_params(axis='y', length=3.5, width=0.8, pad=2, labelsize=7.8)
    for s in ['top', 'right']:
        ax.spines[s].set_visible(False)
    for s in ['left', 'bottom']:
        ax.spines[s].set_linewidth(0.9)
    ax.patch.set_alpha(0)

    order = [0, 3, 6, 9, 1, 4, 7, 2, 5, 8]
    ax.legend([lines[i] for i in order], [series_labels[i] for i in order], ncol=3,
              loc='upper left', bbox_to_anchor=(fx(leg_xy[0]), fy(leg_xy[1])),
              bbox_transform=fig.transFigure, frameon=False, fontsize=7.8,
              handlelength=2.8, handletextpad=0.25, columnspacing=3.7,
              labelspacing=leg_space, borderpad=0, borderaxespad=0)

    fig.text(fx(title_xy[0]), fy(title_xy[1]), title, ha='center', va='center',
             fontsize=8.8, fontweight='bold')
    fig.text(fx(ylab_xy[0]), fy(ylab_xy[1]), 'Mực nước (m)', ha='center', va='center',
             rotation=90, fontsize=9.5, fontweight='bold')
    return ax


draw_chart((231, 246, 2125, 1325), (385, 347, 2025, 1183), chiang_saen, (0, 8), [0, 2, 4, 6, 8], 242.4,
           'Mực nước sông Mekong tại Chiang Saen', (1271, 287), (298, 678), (563, 361), 0.45)
draw_chart((225, 1703, 2118, 2809), (380, 1787, 2024, 2624), kratie, (4, 18), [4, 6, 8, 10, 12, 14, 16, 18],
           241.8, 'Mực nước sông Mekong tại Kratie', (1203, 1735), (270, 2167), (571, 1820), 0.5)

renderer = fig.canvas.get_renderer()


def word_width(s, fp):
    w, h, d = renderer.get_text_width_height_descent(s, fp, ismath=False)
    return w


def put_line(txt, x0, x1, yb, fp, justify=True):
    if not justify:
        fig.text(fx(x0), fy(yb), txt, fontproperties=fp, ha='left', va='baseline')
        return
    words = txt.split(' ')
    widths = [word_width(w, fp) for w in words]
    gap = (x1 - x0 - sum(widths)) / (len(words) - 1)
    x = x0
    for w, wd in zip(words, widths):
        fig.text(fx(x), fy(yb), w, fontproperties=fp, ha='left', va='baseline')
        x += wd + gap


fig.text(fx(1172), fy(1413), caption1, fontproperties=cap_fp, ha='center', va='baseline')
put_line(para1[0], 351, 2121, 1503, body_fp)
put_line(para1[1], 226, 2121, 1578, body_fp)
put_line(para1[2], 226, 2121, 1651, body_fp, justify=False)

fig.text(fx(1170), fy(2905), caption2, fontproperties=cap_fp, ha='center', va='baseline')
p2_base = [2983, 3059, 3133, 3208, 3282]
for i, line in enumerate(para2):
    put_line(line, 342 if i == 0 else 226, 2119, p2_base[i], body_fp, justify=(i < len(para2) - 1))

# footer
fig.add_artist(Line2D([fx(224), fx(2121)], [fy(3386), fy(3386)], transform=fig.transFigure,
                      color='#d4d4d4', lw=0.6))
foot_fp = FontProperties(family=serif, size=9.5, style='italic')
for ch, xp in [('2', 1898), ('P', 1962), ('a', 2006), ('g', 2041), ('e', 2082)]:
    fig.text(fx(xp), fy(3434), ch, fontproperties=foot_fp, ha='left', va='baseline')
fig.text(fx(1942), fy(3434), '|', fontproperties=FontProperties(family=serif, size=10.5),
         ha='center', va='baseline')

fig.savefig('out.png', dpi=300, facecolor='white')
